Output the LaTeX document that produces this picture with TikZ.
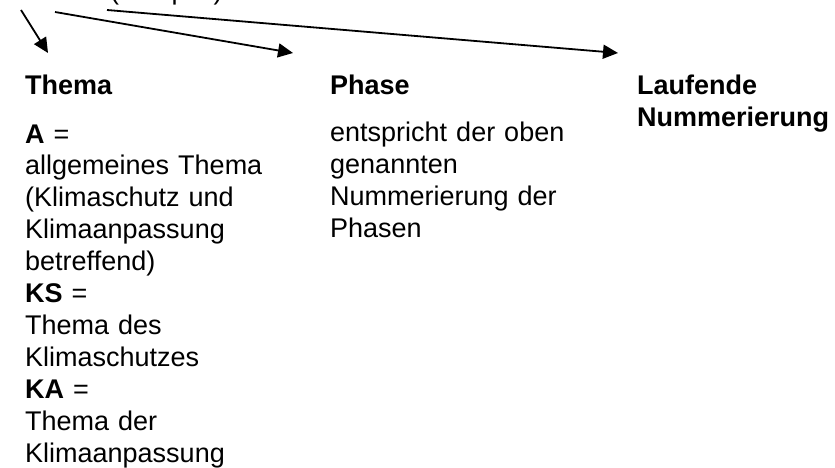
\documentclass[tikz,border=0pt]{standalone}
\usepackage{fontspec}
\setmainfont{Liberation Sans}
\usetikzlibrary{arrows.meta}

\tikzset{
    kopf/.style={anchor=base west, inner sep=0pt, text width=#1, align=left,
        font=\fontsize{27}{31.9}\selectfont\bfseries},
    kopf/.default=220pt,
    eintrag/.style={anchor=base west, inner sep=0pt, text width=#1, align=left,
        font=\fontsize{27}{31.9}\selectfont},
    eintrag/.default=280pt,
    pfeil/.style={line width=1.8pt, -{Triangle[length=15pt,width=14pt]}}
}

\begin{document}
\begin{tikzpicture}[x=1pt,y=-1pt]
    \useasboundingbox (0,0) rectangle (835,468);
    % angeschnittene Zeile oben
    \node[eintrag=200pt] (beispiel) at (110,-0.5) {(Beispiel)};

    \coordinate (s1) at (21,10);
    \coordinate (s2) at (55,12);
    \coordinate (s3) at (107,10);
    \coordinate (z1) at (48,53);
    \coordinate (z2) at (293,53);
    \coordinate (z3) at (618,53);
    \draw[pfeil] (s1) -- (z1);
    \draw[pfeil] (s2) -- (z2);
    \draw[pfeil] (s3) -- (z3);

    \node[kopf] (thema) at (25,95) {Thema};
    \node[kopf] (phase) at (330,95) {Phase};
    \node[kopf=210pt] (nummer) at (637,95) {Laufende\\Nummerierung};

    \node[eintrag] (thematext) at (25,143) {{\bfseries A} =\\allgemeines Thema\\(Klimaschutz und\\Klimaanpassung\\betreffend)\\{\bfseries KS} =\\Thema des\\Klimaschutzes\\{\bfseries KA} =\\Thema der\\Klimaanpassung};
    \node[eintrag] (phasetext) at (330,142) {entspricht der oben\\genannten\\Nummerierung der\\Phasen};

\end{tikzpicture}
\end{document}
